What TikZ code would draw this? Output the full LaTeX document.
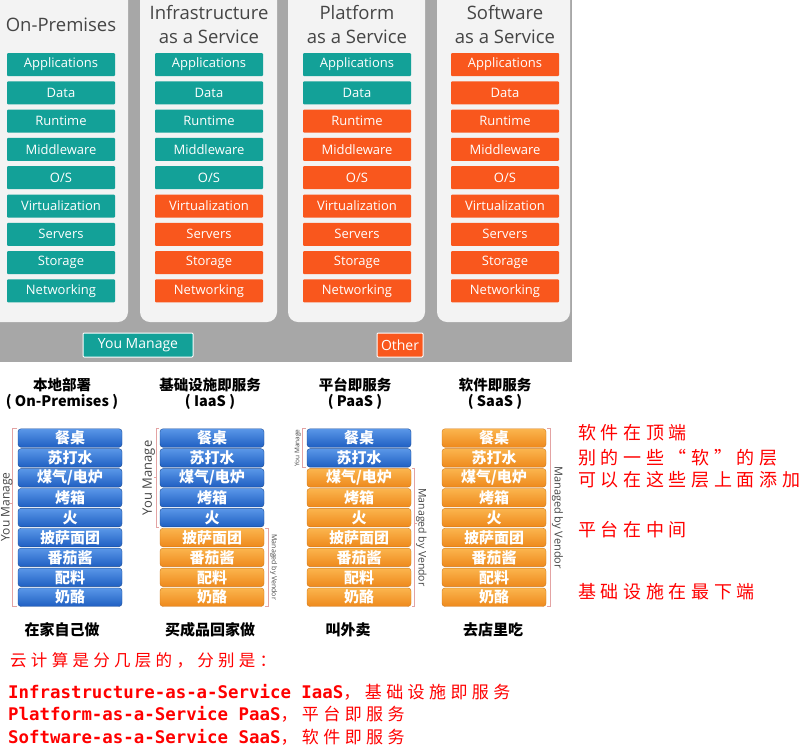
\documentclass[tikz,border=0pt]{standalone}
\usepackage{fontspec}
\setmainfont{Open Sans}
\setmonofont{DejaVu Sans Mono}
\newfontfamily\cjk{Noto Sans CJK SC}
\newfontfamily\cjkred[LetterSpace=26]{Noto Sans CJK SC}
\usetikzlibrary{positioning, calc}

\definecolor{panelgray}{HTML}{A7A7A7}
\definecolor{panelwhite}{HTML}{F3F3F3}
\definecolor{selfteal}{HTML}{13A198}
\definecolor{vendororange}{HTML}{F9571D}
\definecolor{titlegray}{HTML}{454545}
\definecolor{bluetop}{HTML}{5A97E8}
\definecolor{bluebot}{HTML}{1F5FC2}
\definecolor{blueline}{HTML}{1B4C96}
\definecolor{orangetop}{HTML}{FBB54E}
\definecolor{orangebot}{HTML}{EE891C}
\definecolor{orangeline}{HTML}{D0781A}
\definecolor{bracketred}{HTML}{E3A3A3}

\tikzstyle{coltitle} = [align=center, text=titlegray, font=\fontsize{18.5}{24}\selectfont]
\tikzstyle{layer} = [rectangle, rounded corners=1pt, minimum width=108pt, minimum height=23pt,
    inner sep=0pt, text=white, font=\fontsize{13}{13}\selectfont]
\tikzstyle{slice} = [rectangle, rounded corners=3pt, minimum width=104pt, minimum height=18.5pt,
    inner sep=0pt, text=white, font=\cjk\bfseries\fontsize{15}{15}\selectfont]
\tikzstyle{blueslice} = [slice, top color=bluetop, bottom color=bluebot, draw=blueline]
\tikzstyle{orangeslice} = [slice, top color=orangetop, bottom color=orangebot, draw=orangeline]
\tikzstyle{pizzatitle} = [align=center, font=\cjk\bfseries\fontsize{14.5}{16}\selectfont]
\tikzstyle{caption} = [font=\cjk\bfseries\fontsize{15}{15}\selectfont]
\tikzstyle{bracket} = [draw=bracketred, line width=0.8pt]
\tikzstyle{sidelabel} = [inner sep=1.5pt, text=titlegray, font=\fontsize{13}{13}\selectfont]
\tikzstyle{note} = [anchor=west, inner sep=0pt, text=red, font=\cjkred\fontsize{18}{18}\selectfont]

\begin{document}
\begin{tikzpicture}[x=1pt, y=-1pt]
  \useasboundingbox (0,0) rectangle (811,748);

  % cloud service models
  \fill[panelgray] (0,0) rectangle (572,362);
  \fill[panelwhite, rounded corners=10pt] (-20,-20) rectangle (128,322);
  \fill[panelwhite, rounded corners=10pt] (140,-20) rectangle (277,322);
  \fill[panelwhite, rounded corners=10pt] (288,-20) rectangle (425,322);
  \fill[panelwhite, rounded corners=10pt] (437,-20) rectangle (570,322);

  \node (onprem) [coltitle] at (61,25) {On-Premises};
  \node (iaas)   [coltitle] at (209,25) {Infrastructure\\as a Service};
  \node (paas)   [coltitle] at (357,25) {Platform\\as a Service};
  \node (saas)   [coltitle] at (505,25) {Software\\as a Service};

  \foreach \col/\k in {1/9,2/5,3/2,4/0} {
    \foreach \lbl [count=\row] in {Applications,Data,Runtime,Middleware,{O/S},Virtualization,Servers,Storage,Networking} {
      \ifnum\row>\k\relax \def\clr{vendororange}\else \def\clr{selfteal}\fi
      \node (cl\col-\row) [layer, fill=\clr] at ({61+148*(\col-1)},{64.5+28.3*(\row-1)}) {\lbl};
    }
  }

  \node (youmanage) [layer, fill=selfteal, draw=white, line width=1pt, minimum width=110pt,
    minimum height=24pt, font=\fontsize{14}{14}\selectfont] at (138,345) {You Manage};
  \node (other) [layer, fill=vendororange, draw=white, line width=1pt, minimum width=46pt,
    minimum height=24pt, font=\fontsize{14}{14}\selectfont] at (400,345) {Other};

  % pizza as a service
  \node (pzt1) [pizzatitle] at (62,394) {本地部署\\( On-Premises )};
  \node (pzt2) [pizzatitle] at (210,394) {基础设施即服务\\( IaaS )};
  \node (pzt3) [pizzatitle] at (355,394) {平台即服务\\( PaaS )};
  \node (pzt4) [pizzatitle] at (495,394) {软件即服务\\( SaaS )};

  \foreach \col/\x/\k in {1/70/9,2/212/5,3/359/2,4/494/0} {
    \foreach \lbl [count=\row] in {餐桌,苏打水,{煤气/电炉},烤箱,火,披萨面团,番茄酱,配料,奶酪} {
      \ifnum\row>\k\relax \tikzset{slicekind/.style={orangeslice}}\else \tikzset{slicekind/.style={blueslice}}\fi
      \node (pz\col-\row) [slicekind] at (\x,{438+19.9*(\row-1)}) {\lbl};
    }
  }

  \draw[bracket] ([xshift=-1pt]pz1-1.north west) -| node[sidelabel, pos=0.72, rotate=90, above,
    inner sep=0pt, font=\fontsize{12}{12}\selectfont] {You Manage}
    ([xshift=-5pt]pz1-9.south west) -- ([xshift=-1pt]pz1-9.south west);
  \draw[bracket] ($(pz1-1.north west)!0.42!(pz1-9.south west)+(-5,0)$) -- ++(-3,0);
  \draw[bracket] ([xshift=-1pt]pz2-1.north west) -| node[sidelabel, pos=0.75, rotate=90, above] {You Manage}
    ([xshift=-3pt]pz2-5.south west) -- ([xshift=-1pt]pz2-5.south west);
  \draw[bracket] ($(pz2-1.north west)!0.5!(pz2-5.south west)+(-3,0)$) -- ++(-3,0);
  \draw[bracket] ([xshift=1pt]pz2-6.north east) -| node[sidelabel, pos=0.75, rotate=-90, above,
    font=\fontsize{7}{7}\selectfont] {Managed by Vendor}
    ([xshift=4pt]pz2-9.south east) -- ([xshift=1pt]pz2-9.south east);
  \draw[bracket] ([xshift=-1pt]pz3-1.north west) -| node[sidelabel, pos=0.75, rotate=90, above,
    font=\fontsize{6.5}{6.5}\selectfont] {You Manage}
    ([xshift=-4pt]pz3-2.south west) -- ([xshift=-1pt]pz3-2.south west);
  \draw[bracket] ([xshift=1pt]pz3-3.north east) -| node[sidelabel, pos=0.75, rotate=-90, above,
    font=\fontsize{10.5}{10.5}\selectfont] {Managed by Vendor}
    ([xshift=3pt]pz3-9.south east) -- ([xshift=1pt]pz3-9.south east);
  \draw[bracket] ($(pz3-3.north east)!0.4!(pz3-9.south east)+(3,0)$) -- ++(3,0);
  \draw[bracket] ([xshift=1pt]pz4-1.north east) -| node[sidelabel, pos=0.75, rotate=-90, above,
    font=\fontsize{11}{11}\selectfont] {Managed by Vendor}
    ([xshift=4pt]pz4-9.south east) -- ([xshift=1pt]pz4-9.south east);

  \node (home)    [caption] at (62,630) {在家自己做};
  \node (takehome)[caption] at (210,630) {买成品回家做};
  \node (deliver) [caption] at (348,630) {叫外卖};
  \node (dinein)  [caption] at (493,630) {去店里吃};

  % notes
  \node (top)    [note] at (578,433) {软件在顶端};
  \node (soft)   [note, below=25pt of top.west, anchor=west] {别的一些“软”的层};
  \node (add)    [note, below=22pt of soft.west, anchor=west] {可以在这些层上面添加};
  \node (middle) [note] at (578,530) {平台在中间};
  \node (bottom) [note] at (578,592) {基础设施在最下端};

  \node (intro) [note, font=\cjkred\fontsize{16.5}{16.5}\selectfont] at (10,660) {云计算是分几层的，分别是：};
  \node (iaasline) [note, font=\cjkred\fontsize{17}{17}\selectfont] at (8,692)
    {{\ttfamily\bfseries\fontsize{17.4}{18}\selectfont Infrastructure-as-a-Service IaaS}，基础设施即服务};
  \node (paasline) [note, font=\cjkred\fontsize{17}{17}\selectfont, below=22.5pt of iaasline.west, anchor=west]
    {{\ttfamily\bfseries\fontsize{17.4}{18}\selectfont Platform-as-a-Service PaaS}，平台即服务};
  \node (saasline) [note, font=\cjkred\fontsize{17}{17}\selectfont, below=22.5pt of paasline.west, anchor=west]
    {{\ttfamily\bfseries\fontsize{17.4}{18}\selectfont Software-as-a-Service SaaS}，软件即服务};
\end{tikzpicture}
\end{document}
